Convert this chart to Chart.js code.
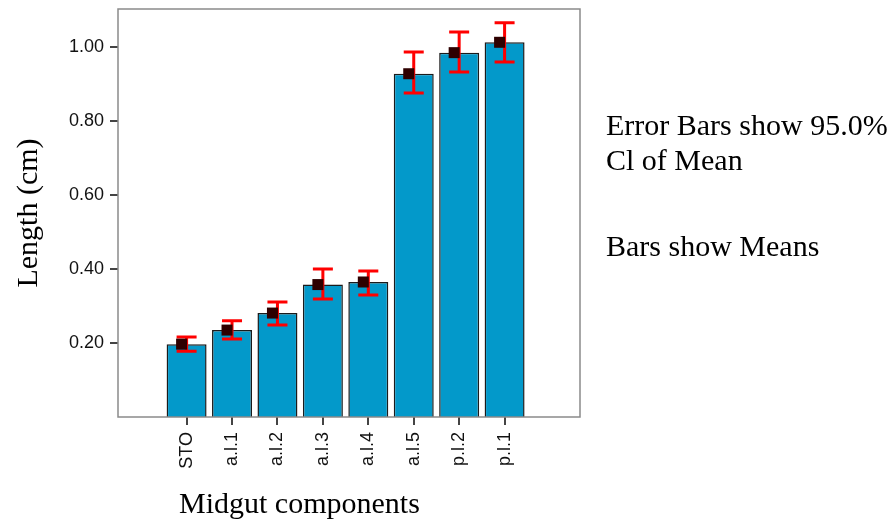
<html>
  <head>
    <script src="https://cdn.jsdelivr.net/npm/chart.js@4/dist/chart.umd.min.js"></script>
    <style>
      body,
      html {
        margin: 0;
        padding: 0;
        background: #fff;
      }
      .wrap {
        position: relative;
        width: 894px;
        height: 525px;
      }
      .note {
        position: absolute;
        font-family: "Liberation Serif", "Times New Roman", serif;
        font-size: 30px;
        line-height: 35px;
        color: #000;
        white-space: nowrap;
      }
    </style>
  </head>
  <body>
    <div class="wrap">
      <canvas id="midgutChart" width="894" height="525"></canvas>
      <div class="note" style="left: 606px; top: 107px">Error Bars show 95.0%<br />Cl of Mean</div>
      <div class="note" style="left: 606px; top: 228px">Bars show Means</div>
      <div class="note" style="left: 179px; top: 485px">Midgut components</div>
    </div>

    <script>
      const categories = ["STO", "a.l.1", "a.l.2", "a.l.3", "a.l.4", "a.l.5", "p.l.2", "p.l.1"];
      const means = [0.197, 0.235, 0.281, 0.358, 0.365, 0.928, 0.985, 1.013];
      const ciLow = [0.178, 0.211, 0.249, 0.319, 0.33, 0.876, 0.933, 0.96];
      const ciHigh = [0.216, 0.26, 0.311, 0.4, 0.395, 0.987, 1.041, 1.066];
      const yTicks = [0.2, 0.4, 0.6, 0.8, 1.0];

      // frame round the plot area
      const frameBox = {
        id: "frameBox",
        afterDatasetsDraw(chart) {
          const a = chart.chartArea;
          const c = chart.ctx;
          c.save();
          c.strokeStyle = "#8a8a8a";
          c.lineWidth = 1.5;
          c.strokeRect(a.left, a.top, a.right - a.left, a.bottom - a.top);
          c.restore();
        },
      };

      // CI whiskers and mean squares
      const errorBars = {
        id: "errorBars",
        afterDatasetsDraw(chart) {
          const c = chart.ctx;
          const xs = chart.scales.x;
          const ys = chart.scales.y;
          c.save();
          c.strokeStyle = "#ff0000";
          c.lineWidth = 3;
          for (let i = 0; i < categories.length; i++) {
            const x = xs.getPixelForValue(i);
            const yl = ys.getPixelForValue(ciLow[i]);
            const yh = ys.getPixelForValue(ciHigh[i]);
            c.beginPath();
            c.moveTo(x, yl);
            c.lineTo(x, yh);
            c.moveTo(x - 10, yl);
            c.lineTo(x + 10, yl);
            c.moveTo(x - 10, yh);
            c.lineTo(x + 10, yh);
            c.stroke();
          }
          c.fillStyle = "#2e0000";
          for (let i = 0; i < categories.length; i++) {
            const x = xs.getPixelForValue(i) - 5;
            const y = ys.getPixelForValue(means[i]);
            c.fillRect(x - 5.5, y - 5.5, 11, 11);
          }
          c.restore();
        },
      };

      const ctx = document.getElementById("midgutChart").getContext("2d");
      const tickColor = "#444";

      var midgutChart = new Chart(ctx, {
        type: "bar",
        data: {
          datasets: [
            {
              label: "Length",
              data: means.map((v, i) => ({ x: i, y: v })),
              backgroundColor: "#0399ca",
              borderColor: "#1b1b1b",
              borderWidth: 1.5,
              barPercentage: 0.88,
              categoryPercentage: 1,
            },
          ],
        },
        options: {
          responsive: false,
          animation: false,
          layout: { padding: { top: 0, right: 314, left: 0, bottom: 0 } },
          plugins: {
            legend: { display: false },
            tooltip: { enabled: false },
          },
          scales: {
            x: {
              type: "linear",
              min: -1.51,
              max: 8.66,
              offset: false,
              afterBuildTicks: (scale) => {
                scale.ticks = categories.map((c, i) => ({ value: i }));
              },
              afterFit: (scale) => {
                scale.height = 108;
              },
              border: { display: false },
              grid: {
                offset: false,
                drawOnChartArea: false,
                tickLength: 8,
                lineWidth: 2,
                color: tickColor,
              },
              ticks: {
                autoSkip: false,
                minRotation: 90,
                maxRotation: 90,
                padding: 7,
                color: "#111",
                font: { family: "'Liberation Sans', Arial", size: 18 },
                callback: (v) => categories[Math.round(v)],
              },
            },
            y: {
              min: 0,
              max: 1.103,
              afterBuildTicks: (scale) => {
                scale.ticks = yTicks.map((v) => ({ value: v }));
              },
              afterFit: (scale) => {
                scale.width = 118;
                scale.paddingTop = 9;
              },
              border: { display: false },
              grid: {
                drawOnChartArea: false,
                tickLength: 8,
                lineWidth: 2,
                color: tickColor,
              },
              ticks: {
                padding: 6,
                color: "#111",
                font: { family: "'Liberation Sans', Arial", size: 18 },
                callback: (v) => v.toFixed(2),
              },
              title: {
                display: true,
                text: "Length (cm)",
                color: "#000",
                padding: { top: 11, bottom: 0 },
                font: { family: "'Liberation Serif', 'Times New Roman', serif", size: 30 },
              },
            },
          },
        },
        plugins: [errorBars, frameBox],
      });
    </script>
  </body>
</html>
